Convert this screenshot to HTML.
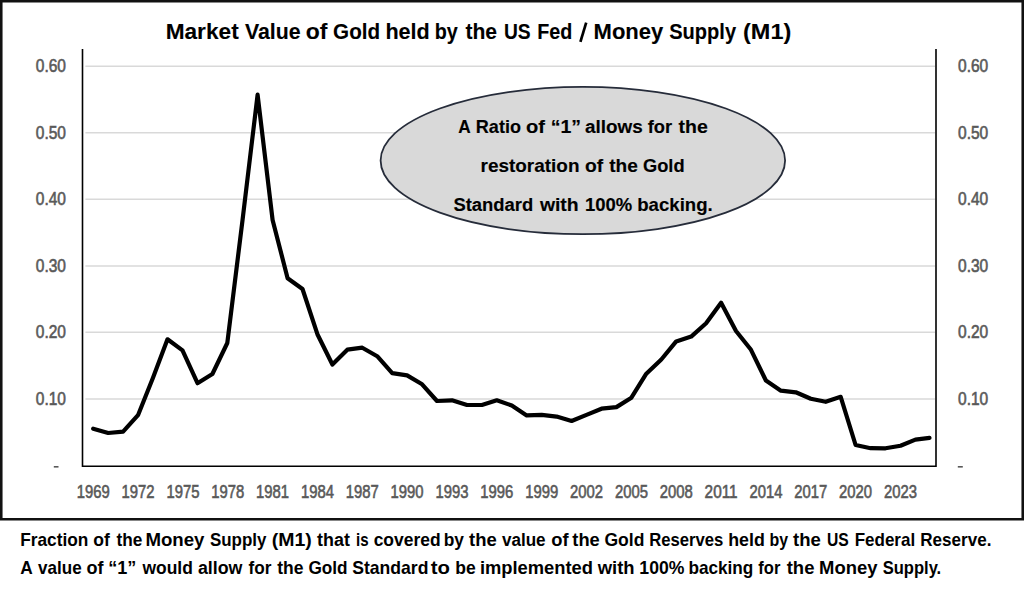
<!DOCTYPE html>
<html><head><meta charset="utf-8"><title>Market Value of Gold / M1</title>
<style>
html,body{margin:0;padding:0;background:#fff;width:1024px;height:592px;overflow:hidden}
svg{display:block;font-family:"Liberation Sans",sans-serif}
</style></head><body>
<svg width="1024" height="592" viewBox="0 0 1024 592">
<line x1="85.4" y1="66.3" x2="935" y2="66.3" stroke="#d9d9d9" stroke-width="1.5"/>
<line x1="85.4" y1="132.7" x2="935" y2="132.7" stroke="#d9d9d9" stroke-width="1.5"/>
<line x1="85.4" y1="199.2" x2="935" y2="199.2" stroke="#d9d9d9" stroke-width="1.5"/>
<line x1="85.4" y1="265.9" x2="935" y2="265.9" stroke="#d9d9d9" stroke-width="1.5"/>
<line x1="85.4" y1="332.3" x2="935" y2="332.3" stroke="#d9d9d9" stroke-width="1.5"/>
<line x1="85.4" y1="399.0" x2="935" y2="399.0" stroke="#d9d9d9" stroke-width="1.5"/>
<path d="M82.5 49 V466.2 H936 V49" fill="none" stroke="#000" stroke-width="1.6"/>
<text x="66" y="72.3" font-size="17.6" fill="#595959" text-anchor="end" font-weight="normal" textLength="30.2" lengthAdjust="spacingAndGlyphs" stroke="#595959" stroke-width="0.6">0.60</text>
<text x="958" y="72.3" font-size="17.6" fill="#595959" text-anchor="start" font-weight="normal" textLength="30.2" lengthAdjust="spacingAndGlyphs" stroke="#595959" stroke-width="0.6">0.60</text>
<text x="66" y="138.7" font-size="17.6" fill="#595959" text-anchor="end" font-weight="normal" textLength="30.2" lengthAdjust="spacingAndGlyphs" stroke="#595959" stroke-width="0.6">0.50</text>
<text x="958" y="138.7" font-size="17.6" fill="#595959" text-anchor="start" font-weight="normal" textLength="30.2" lengthAdjust="spacingAndGlyphs" stroke="#595959" stroke-width="0.6">0.50</text>
<text x="66" y="205.2" font-size="17.6" fill="#595959" text-anchor="end" font-weight="normal" textLength="30.2" lengthAdjust="spacingAndGlyphs" stroke="#595959" stroke-width="0.6">0.40</text>
<text x="958" y="205.2" font-size="17.6" fill="#595959" text-anchor="start" font-weight="normal" textLength="30.2" lengthAdjust="spacingAndGlyphs" stroke="#595959" stroke-width="0.6">0.40</text>
<text x="66" y="271.9" font-size="17.6" fill="#595959" text-anchor="end" font-weight="normal" textLength="30.2" lengthAdjust="spacingAndGlyphs" stroke="#595959" stroke-width="0.6">0.30</text>
<text x="958" y="271.9" font-size="17.6" fill="#595959" text-anchor="start" font-weight="normal" textLength="30.2" lengthAdjust="spacingAndGlyphs" stroke="#595959" stroke-width="0.6">0.30</text>
<text x="66" y="338.3" font-size="17.6" fill="#595959" text-anchor="end" font-weight="normal" textLength="30.2" lengthAdjust="spacingAndGlyphs" stroke="#595959" stroke-width="0.6">0.20</text>
<text x="958" y="338.3" font-size="17.6" fill="#595959" text-anchor="start" font-weight="normal" textLength="30.2" lengthAdjust="spacingAndGlyphs" stroke="#595959" stroke-width="0.6">0.20</text>
<text x="66" y="405.0" font-size="17.6" fill="#595959" text-anchor="end" font-weight="normal" textLength="30.2" lengthAdjust="spacingAndGlyphs" stroke="#595959" stroke-width="0.6">0.10</text>
<text x="958" y="405.0" font-size="17.6" fill="#595959" text-anchor="start" font-weight="normal" textLength="30.2" lengthAdjust="spacingAndGlyphs" stroke="#595959" stroke-width="0.6">0.10</text>
<rect x="53.8" y="466" width="4.7" height="1.6" fill="#595959"/>
<rect x="957.8" y="466" width="5" height="1.6" fill="#595959"/>
<text x="93.2" y="497.8" font-size="17.7" fill="#595959" text-anchor="middle" font-weight="normal" textLength="33" lengthAdjust="spacingAndGlyphs" stroke="#595959" stroke-width="0.6">1969</text>
<text x="138.1" y="497.8" font-size="17.7" fill="#595959" text-anchor="middle" font-weight="normal" textLength="33" lengthAdjust="spacingAndGlyphs" stroke="#595959" stroke-width="0.6">1972</text>
<text x="182.9" y="497.8" font-size="17.7" fill="#595959" text-anchor="middle" font-weight="normal" textLength="33" lengthAdjust="spacingAndGlyphs" stroke="#595959" stroke-width="0.6">1975</text>
<text x="227.8" y="497.8" font-size="17.7" fill="#595959" text-anchor="middle" font-weight="normal" textLength="33" lengthAdjust="spacingAndGlyphs" stroke="#595959" stroke-width="0.6">1978</text>
<text x="272.6" y="497.8" font-size="17.7" fill="#595959" text-anchor="middle" font-weight="normal" textLength="33" lengthAdjust="spacingAndGlyphs" stroke="#595959" stroke-width="0.6">1981</text>
<text x="317.4" y="497.8" font-size="17.7" fill="#595959" text-anchor="middle" font-weight="normal" textLength="33" lengthAdjust="spacingAndGlyphs" stroke="#595959" stroke-width="0.6">1984</text>
<text x="362.3" y="497.8" font-size="17.7" fill="#595959" text-anchor="middle" font-weight="normal" textLength="33" lengthAdjust="spacingAndGlyphs" stroke="#595959" stroke-width="0.6">1987</text>
<text x="407.1" y="497.8" font-size="17.7" fill="#595959" text-anchor="middle" font-weight="normal" textLength="33" lengthAdjust="spacingAndGlyphs" stroke="#595959" stroke-width="0.6">1990</text>
<text x="452.0" y="497.8" font-size="17.7" fill="#595959" text-anchor="middle" font-weight="normal" textLength="33" lengthAdjust="spacingAndGlyphs" stroke="#595959" stroke-width="0.6">1993</text>
<text x="496.8" y="497.8" font-size="17.7" fill="#595959" text-anchor="middle" font-weight="normal" textLength="33" lengthAdjust="spacingAndGlyphs" stroke="#595959" stroke-width="0.6">1996</text>
<text x="541.7" y="497.8" font-size="17.7" fill="#595959" text-anchor="middle" font-weight="normal" textLength="33" lengthAdjust="spacingAndGlyphs" stroke="#595959" stroke-width="0.6">1999</text>
<text x="586.5" y="497.8" font-size="17.7" fill="#595959" text-anchor="middle" font-weight="normal" textLength="33" lengthAdjust="spacingAndGlyphs" stroke="#595959" stroke-width="0.6">2002</text>
<text x="631.4" y="497.8" font-size="17.7" fill="#595959" text-anchor="middle" font-weight="normal" textLength="33" lengthAdjust="spacingAndGlyphs" stroke="#595959" stroke-width="0.6">2005</text>
<text x="676.2" y="497.8" font-size="17.7" fill="#595959" text-anchor="middle" font-weight="normal" textLength="33" lengthAdjust="spacingAndGlyphs" stroke="#595959" stroke-width="0.6">2008</text>
<text x="721.1" y="497.8" font-size="17.7" fill="#595959" text-anchor="middle" font-weight="normal" textLength="33" lengthAdjust="spacingAndGlyphs" stroke="#595959" stroke-width="0.6">2011</text>
<text x="766.0" y="497.8" font-size="17.7" fill="#595959" text-anchor="middle" font-weight="normal" textLength="33" lengthAdjust="spacingAndGlyphs" stroke="#595959" stroke-width="0.6">2014</text>
<text x="810.8" y="497.8" font-size="17.7" fill="#595959" text-anchor="middle" font-weight="normal" textLength="33" lengthAdjust="spacingAndGlyphs" stroke="#595959" stroke-width="0.6">2017</text>
<text x="855.6" y="497.8" font-size="17.7" fill="#595959" text-anchor="middle" font-weight="normal" textLength="33" lengthAdjust="spacingAndGlyphs" stroke="#595959" stroke-width="0.6">2020</text>
<text x="900.5" y="497.8" font-size="17.7" fill="#595959" text-anchor="middle" font-weight="normal" textLength="33" lengthAdjust="spacingAndGlyphs" stroke="#595959" stroke-width="0.6">2023</text>
<path d="M93.2 428.7 L108.2 433 L123.1 431.7 L138 415.2 L152.8 378.3 L167.5 339.3 L182.5 350.4 L197.5 383.2 L212.4 374 L227.3 343 L242.6 219.5 L257.6 94.7 L272.6 220 L287.6 278.2 L302.5 289 L317.4 334.2 L332.4 364.5 L347.3 349.7 L362.3 347.7 L377.2 356.2 L392.2 373.1 L407.1 375.4 L422.1 384.3 L437 401 L452 400.3 L467 405 L481.9 405 L496.8 400.3 L511.8 405.5 L526.7 415.4 L541.7 414.8 L556.6 416.6 L571.6 421 L586.5 414.9 L601.5 408.7 L616.4 407.1 L631.4 397.7 L646.3 373.7 L661.3 359.5 L676.2 341.4 L691.2 336.6 L706.1 323.2 L721.1 302.7 L736 331 L751 349.8 L765.9 380.5 L780.9 390.7 L795.8 392.3 L810.8 398.8 L825.7 401.8 L840.7 396.8 L855.6 445 L870.6 448.2 L885.5 448.3 L900.5 445.7 L915.4 439.6 L929.5 437.9" fill="none" stroke="#000" stroke-width="4.2" stroke-linejoin="round" stroke-linecap="round"/>
<ellipse cx="582.85" cy="160.55" rx="202.25" ry="73.65" fill="#d9d9d9" stroke="#262c3a" stroke-width="1.8"/>
<text transform="matrix(1.0642 0 0 1 165.65 39.0)" font-size="21.3" font-weight="bold" fill="#000" stroke="#000" stroke-width="0.1">Market</text>
<text transform="matrix(1.0000 0 0 1 245.00 39.0)" font-size="21.3" font-weight="bold" fill="#000" stroke="#000" stroke-width="0.1">Value</text>
<text transform="matrix(1.0789 0 0 1 305.65 39.0)" font-size="21.3" font-weight="bold" fill="#000" stroke="#000" stroke-width="0.1">of</text>
<text transform="matrix(0.9702 0 0 1 333.10 39.0)" font-size="21.3" font-weight="bold" fill="#000" stroke="#000" stroke-width="0.1">Gold</text>
<text transform="matrix(1.0146 0 0 1 385.40 39.0)" font-size="21.3" font-weight="bold" fill="#000" stroke="#000" stroke-width="0.1">held</text>
<text transform="matrix(0.9292 0 0 1 434.65 39.0)" font-size="21.3" font-weight="bold" fill="#000" stroke="#000" stroke-width="0.1">by</text>
<text transform="matrix(0.9906 0 0 1 465.45 39.0)" font-size="21.3" font-weight="bold" fill="#000" stroke="#000" stroke-width="0.1">the</text>
<text transform="matrix(0.9036 0 0 1 503.95 39.0)" font-size="21.3" font-weight="bold" fill="#000" stroke="#000" stroke-width="0.1">US</text>
<text transform="matrix(0.9278 0 0 1 537.20 39.0)" font-size="21.3" font-weight="bold" fill="#000" stroke="#000" stroke-width="0.1">Fed</text>
<line x1="580.4" y1="41.8" x2="586.2" y2="22.6" stroke="#000" stroke-width="2.7"/>
<text transform="matrix(1.0348 0 0 1 593.55 39.0)" font-size="21.3" font-weight="bold" fill="#000" stroke="#000" stroke-width="0.1">Money</text>
<text transform="matrix(0.9429 0 0 1 669.20 39.0)" font-size="21.3" font-weight="bold" fill="#000" stroke="#000" stroke-width="0.1">Supply</text>
<text transform="matrix(1.1024 0 0 1 743.05 39.0)" font-size="21.3" font-weight="bold" fill="#000" stroke="#000" stroke-width="0.1">(M1)</text>
<text transform="matrix(0.9881 0 0 1 20.20 546.2)" font-size="17.5" font-weight="bold" fill="#000" stroke="#000" stroke-width="0">Fraction</text>
<text transform="matrix(1.0000 0 0 1 93.20 546.2)" font-size="17.5" font-weight="bold" fill="#000" stroke="#000" stroke-width="0">of</text>
<text transform="matrix(0.9846 0 0 1 116.40 546.2)" font-size="17.5" font-weight="bold" fill="#000" stroke="#000" stroke-width="0">the</text>
<text transform="matrix(1.0667 0 0 1 145.40 546.2)" font-size="17.5" font-weight="bold" fill="#000" stroke="#000" stroke-width="0">Money</text>
<text transform="matrix(0.9667 0 0 1 209.95 546.2)" font-size="17.5" font-weight="bold" fill="#000" stroke="#000" stroke-width="0">Supply</text>
<text transform="matrix(1.1147 0 0 1 271.65 546.2)" font-size="17.5" font-weight="bold" fill="#000" stroke="#000" stroke-width="0">(M1)</text>
<text transform="matrix(1.0226 0 0 1 317.05 546.2)" font-size="17.5" font-weight="bold" fill="#000" stroke="#000" stroke-width="0">that</text>
<text transform="matrix(0.8615 0 0 1 356.00 546.2)" font-size="17.5" font-weight="bold" fill="#000" stroke="#000" stroke-width="0">is</text>
<text transform="matrix(0.9985 0 0 1 373.65 546.2)" font-size="17.5" font-weight="bold" fill="#000" stroke="#000" stroke-width="0">covered</text>
<text transform="matrix(0.9895 0 0 1 443.70 546.2)" font-size="17.5" font-weight="bold" fill="#000" stroke="#000" stroke-width="0">by</text>
<text transform="matrix(1.0560 0 0 1 469.00 546.2)" font-size="17.5" font-weight="bold" fill="#000" stroke="#000" stroke-width="0">the</text>
<text transform="matrix(0.9773 0 0 1 501.90 546.2)" font-size="17.5" font-weight="bold" fill="#000" stroke="#000" stroke-width="0">value</text>
<text transform="matrix(1.0500 0 0 1 551.20 546.2)" font-size="17.5" font-weight="bold" fill="#000" stroke="#000" stroke-width="0">of</text>
<text transform="matrix(1.0462 0 0 1 572.30 546.2)" font-size="17.5" font-weight="bold" fill="#000" stroke="#000" stroke-width="0">the</text>
<text transform="matrix(1.0026 0 0 1 604.45 546.2)" font-size="17.5" font-weight="bold" fill="#000" stroke="#000" stroke-width="0">Gold</text>
<text transform="matrix(0.9526 0 0 1 649.20 546.2)" font-size="17.5" font-weight="bold" fill="#000" stroke="#000" stroke-width="0">Reserves</text>
<text transform="matrix(1.0176 0 0 1 728.20 546.2)" font-size="17.5" font-weight="bold" fill="#000" stroke="#000" stroke-width="0">held</text>
<text transform="matrix(0.9100 0 0 1 769.60 546.2)" font-size="17.5" font-weight="bold" fill="#000" stroke="#000" stroke-width="0">by</text>
<text transform="matrix(1.0615 0 0 1 793.10 546.2)" font-size="17.5" font-weight="bold" fill="#000" stroke="#000" stroke-width="0">the</text>
<text transform="matrix(0.8957 0 0 1 826.90 546.2)" font-size="17.5" font-weight="bold" fill="#000" stroke="#000" stroke-width="0">US</text>
<text transform="matrix(0.9721 0 0 1 854.65 546.2)" font-size="17.5" font-weight="bold" fill="#000" stroke="#000" stroke-width="0">Federal</text>
<text transform="matrix(0.9746 0 0 1 920.30 546.2)" font-size="17.5" font-weight="bold" fill="#000" stroke="#000" stroke-width="0">Reserve.</text>
<text transform="matrix(0.9909 0 0 1 20.25 574.0)" font-size="17.5" font-weight="bold" fill="#000" stroke="#000" stroke-width="0">A</text>
<text transform="matrix(0.9727 0 0 1 38.10 574.0)" font-size="17.5" font-weight="bold" fill="#000" stroke="#000" stroke-width="0">value</text>
<text transform="matrix(1.0312 0 0 1 86.45 574.0)" font-size="17.5" font-weight="bold" fill="#000" stroke="#000" stroke-width="0">of</text>
<text transform="matrix(1.0320 0 0 1 108.30 574.0)" font-size="17.5" font-weight="bold" fill="#000" stroke="#000" stroke-width="0">“1”</text>
<text transform="matrix(0.9960 0 0 1 142.50 574.0)" font-size="17.5" font-weight="bold" fill="#000" stroke="#000" stroke-width="0">would</text>
<text transform="matrix(1.0186 0 0 1 197.90 574.0)" font-size="17.5" font-weight="bold" fill="#000" stroke="#000" stroke-width="0">allow</text>
<text transform="matrix(0.9826 0 0 1 248.50 574.0)" font-size="17.5" font-weight="bold" fill="#000" stroke="#000" stroke-width="0">for</text>
<text transform="matrix(1.0000 0 0 1 277.20 574.0)" font-size="17.5" font-weight="bold" fill="#000" stroke="#000" stroke-width="0">the</text>
<text transform="matrix(0.9842 0 0 1 308.40 574.0)" font-size="17.5" font-weight="bold" fill="#000" stroke="#000" stroke-width="0">Gold</text>
<text transform="matrix(1.0054 0 0 1 352.20 574.0)" font-size="17.5" font-weight="bold" fill="#000" stroke="#000" stroke-width="0">Standard</text>
<text transform="matrix(1.1621 0 0 1 430.85 574.0)" font-size="17.5" font-weight="bold" fill="#000" stroke="#000" stroke-width="0">to</text>
<text transform="matrix(1.0000 0 0 1 455.30 574.0)" font-size="17.5" font-weight="bold" fill="#000" stroke="#000" stroke-width="0">be</text>
<text transform="matrix(1.0476 0 0 1 479.90 574.0)" font-size="17.5" font-weight="bold" fill="#000" stroke="#000" stroke-width="0">implemented</text>
<text transform="matrix(1.0529 0 0 1 597.70 574.0)" font-size="17.5" font-weight="bold" fill="#000" stroke="#000" stroke-width="0">with</text>
<text transform="matrix(1.0070 0 0 1 639.35 574.0)" font-size="17.5" font-weight="bold" fill="#000" stroke="#000" stroke-width="0">100%</text>
<text transform="matrix(0.9825 0 0 1 688.45 574.0)" font-size="17.5" font-weight="bold" fill="#000" stroke="#000" stroke-width="0">backing</text>
<text transform="matrix(0.9435 0 0 1 758.35 574.0)" font-size="17.5" font-weight="bold" fill="#000" stroke="#000" stroke-width="0">for</text>
<text transform="matrix(1.0560 0 0 1 786.70 574.0)" font-size="17.5" font-weight="bold" fill="#000" stroke="#000" stroke-width="0">the</text>
<text transform="matrix(1.0556 0 0 1 819.10 574.0)" font-size="17.5" font-weight="bold" fill="#000" stroke="#000" stroke-width="0">Money</text>
<text transform="matrix(0.9450 0 0 1 882.75 574.0)" font-size="17.5" font-weight="bold" fill="#000" stroke="#000" stroke-width="0">Supply.</text>
<text transform="matrix(0.9077 0 0 1 458.20 133.4)" font-size="19" font-weight="bold" fill="#000" stroke="#000" stroke-width="0.15">A</text>
<text transform="matrix(0.9500 0 0 1 475.85 133.4)" font-size="19" font-weight="bold" fill="#000" stroke="#000" stroke-width="0.15">Ratio</text>
<text transform="matrix(1.0588 0 0 1 526.00 133.4)" font-size="19" font-weight="bold" fill="#000" stroke="#000" stroke-width="0.15">of</text>
<text transform="matrix(1.0259 0 0 1 550.75 133.4)" font-size="19" font-weight="bold" fill="#000" stroke="#000" stroke-width="0.15">“1”</text>
<text transform="matrix(0.9946 0 0 1 585.05 133.4)" font-size="19" font-weight="bold" fill="#000" stroke="#000" stroke-width="0.15">allows</text>
<text transform="matrix(0.9640 0 0 1 647.65 133.4)" font-size="19" font-weight="bold" fill="#000" stroke="#000" stroke-width="0.15">for</text>
<text transform="matrix(1.0250 0 0 1 678.55 133.4)" font-size="19" font-weight="bold" fill="#000" stroke="#000" stroke-width="0.15">the</text>
<text transform="matrix(0.9969 0 0 1 480.55 171.8)" font-size="19" font-weight="bold" fill="#000" stroke="#000" stroke-width="0.15">restoration</text>
<text transform="matrix(1.0167 0 0 1 585.05 171.8)" font-size="19" font-weight="bold" fill="#000" stroke="#000" stroke-width="0.15">of</text>
<text transform="matrix(1.0036 0 0 1 609.15 171.8)" font-size="19" font-weight="bold" fill="#000" stroke="#000" stroke-width="0.15">the</text>
<text transform="matrix(0.9619 0 0 1 643.00 171.8)" font-size="19" font-weight="bold" fill="#000" stroke="#000" stroke-width="0.15">Gold</text>
<text transform="matrix(0.9691 0 0 1 453.45 210.8)" font-size="19" font-weight="bold" fill="#000" stroke="#000" stroke-width="0.15">Standard</text>
<text transform="matrix(1.0216 0 0 1 539.90 210.8)" font-size="19" font-weight="bold" fill="#000" stroke="#000" stroke-width="0.15">with</text>
<text transform="matrix(0.9723 0 0 1 584.95 210.8)" font-size="19" font-weight="bold" fill="#000" stroke="#000" stroke-width="0.15">100%</text>
<text transform="matrix(0.9797 0 0 1 637.25 210.8)" font-size="19" font-weight="bold" fill="#000" stroke="#000" stroke-width="0.15">backing.</text>
<path d="M1.25 1.25 H1022.75 V519.2 H1.25 Z" fill="none" stroke="#111" stroke-width="2.6"/>
</svg>
</body></html>
